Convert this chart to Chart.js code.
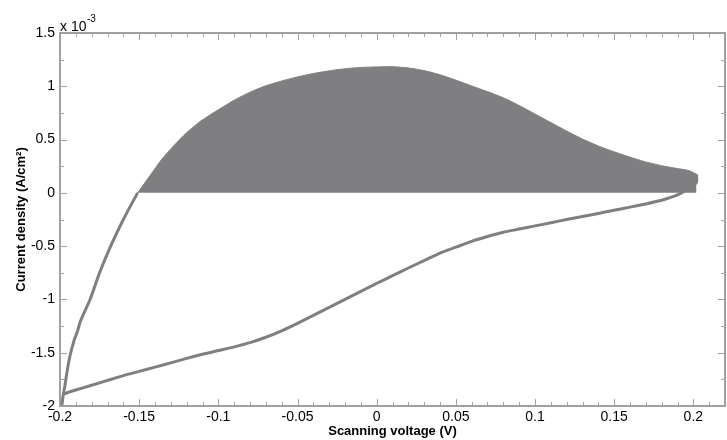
<!DOCTYPE html>
<html>
<head>
<meta charset="utf-8">
<script src="https://cdn.jsdelivr.net/npm/chart.js@4/dist/chart.umd.min.js"></script>
<style>
  body { margin: 0; background: #fff; }
</style>
</head>
<body>
<canvas id="cv" width="727" height="440"></canvas>
<script>
// current density in units of 1e-3 A/cm2
const ida_baja_x = [-0.199, -0.198, -0.197, -0.196, -0.194, -0.191, -0.189, -0.187, -0.181, -0.175, -0.168, -0.160, -0.151];
const ida_baja_y = [-2.02, -1.9, -1.82, -1.72, -1.55, -1.38, -1.30, -1.20, -1.00, -0.75, -0.50, -0.25, 0];

const ida_alta_x = [-0.151, -0.143, -0.136, -0.128, -0.12, -0.111, -0.1, -0.09, -0.08, -0.07, -0.06, -0.05, -0.04, -0.03, -0.02, -0.01, 0, 0.01, 0.02, 0.03, 0.04, 0.05, 0.06, 0.07, 0.08, 0.09, 0.1, 0.11, 0.12, 0.13, 0.14, 0.15, 0.16, 0.17, 0.18, 0.19, 0.197, 0.202];
const ida_alta_y = [0, 0.165, 0.31, 0.445, 0.565, 0.675, 0.78, 0.87, 0.945, 1.005, 1.05, 1.088, 1.12, 1.145, 1.165, 1.177, 1.182, 1.184, 1.172, 1.147, 1.108, 1.058, 1.003, 0.95, 0.892, 0.82, 0.74, 0.66, 0.58, 0.505, 0.44, 0.385, 0.335, 0.29, 0.255, 0.228, 0.21, 0.175];

const vuelta_x = [0.202, 0.202, 0.197, 0.19, 0.18, 0.17, 0.16, 0.15, 0.14, 0.13, 0.12, 0.11, 0.1, 0.09, 0.08, 0.07, 0.06, 0.05, 0.04, 0.03, 0.02, 0.01, 0, -0.01, -0.02, -0.03, -0.04, -0.05, -0.06, -0.07, -0.08, -0.09, -0.1, -0.11, -0.12, -0.13, -0.14, -0.15, -0.16, -0.17, -0.18, -0.19, -0.195, -0.198];
const vuelta_y = [0.175, 0.1, 0.04, -0.02, -0.07, -0.104, -0.134, -0.163, -0.193, -0.222, -0.25, -0.281, -0.31, -0.34, -0.37, -0.41, -0.455, -0.51, -0.565, -0.635, -0.705, -0.777, -0.85, -0.925, -1.0, -1.075, -1.15, -1.225, -1.295, -1.355, -1.405, -1.445, -1.48, -1.515, -1.553, -1.595, -1.635, -1.675, -1.715, -1.76, -1.805, -1.85, -1.873, -1.89];

const ticks_x = [-0.2, -0.15, -0.1, -0.05, 0, 0.05, 0.1, 0.15, 0.2];
const ticks_y = [-2, -1.5, -1, -0.5, 0, 0.5, 1, 1.5];

const puntos = (xs, ys) => xs.map((x, i) => ({ x: x, y: ys[i] }));
const gris = '#7f7f81';
const ejeColor = '#a0a0a0';
const fuente = '"Liberation Sans", Arial, sans-serif';
const fmt = v => String(Number(Number(v).toFixed(2)));

// ticks hacia adentro en los cuatro lados, como en MATLAB
const marcoPlugin = {
  id: 'marco',
  afterDraw(chart) {
    const ctx = chart.ctx;
    const a = chart.chartArea;
    const sx = chart.scales.x, sy = chart.scales.y;
    ctx.save();
    ctx.strokeStyle = ejeColor;
    ctx.lineWidth = 1;
    ctx.beginPath();
    for (let i = -20; i <= 22; i++) {
      const px = Math.round(sx.getPixelForValue(i / 100)) + 0.5;
      const largo = (i % 5 === 0) ? 7 : 4;
      ctx.moveTo(px, a.bottom); ctx.lineTo(px, a.bottom - largo);
      ctx.moveTo(px, a.top); ctx.lineTo(px, a.top + largo);
    }
    for (let i = -8; i <= 6; i++) {
      const py = Math.round(sy.getPixelForValue(i / 4)) + 0.5;
      const largo = (i % 2 === 0) ? 7 : 4;
      ctx.moveTo(a.left, py); ctx.lineTo(a.left + largo, py);
      ctx.moveTo(a.right, py); ctx.lineTo(a.right - largo, py);
    }
    ctx.stroke();
    ctx.lineWidth = 2;
    ctx.strokeRect(a.left, a.top, a.right - a.left, a.bottom - a.top);
    ctx.fillStyle = '#000';
    ctx.textBaseline = 'alphabetic';
    ctx.font = '14px ' + fuente;
    ctx.fillText('x 10', a.left, a.top - 2);
    ctx.font = '10px ' + fuente;
    ctx.fillText('-3', a.left + 27, a.top - 11);
    ctx.restore();
  }
};

new Chart(document.getElementById('cv').getContext('2d'), {
  type: 'scatter',
  data: {
    datasets: [
      {
        data: puntos(ida_alta_x, ida_alta_y),
        showLine: true,
        fill: 'origin',
        backgroundColor: gris,
        borderColor: gris,
        borderWidth: 1,
        pointRadius: 0,
        tension: 0.2
      },
      {
        data: puntos(ida_baja_x, ida_baja_y),
        showLine: true,
        borderColor: gris,
        borderWidth: 3,
        pointRadius: 0,
        tension: 0.2
      },
      {
        data: puntos(vuelta_x, vuelta_y),
        showLine: true,
        borderColor: gris,
        borderWidth: 3,
        pointRadius: 0,
        tension: 0.2
      }
    ]
  },
  options: {
    responsive: false,
    animation: false,
    layout: { padding: { top: 33, right: 2, left: 0, bottom: 0 } },
    plugins: {
      legend: { display: false },
      tooltip: { enabled: false }
    },
    scales: {
      x: {
        type: 'linear',
        min: -0.2,
        max: 0.22,
        grid: { display: false, drawTicks: false },
        border: { display: false },
        afterBuildTicks: s => { s.ticks = ticks_x.map(v => ({ value: v })); },
        afterFit: s => { s.height = 34; },
        ticks: {
          color: '#000',
          padding: 3,
          maxRotation: 0,
          autoSkip: false,
          font: { family: fuente, size: 14 },
          callback: v => fmt(v)
        },
        title: {
          display: true,
          text: 'Scanning voltage (V)',
          color: '#000',
          padding: { top: 0, bottom: 1 },
          font: { family: fuente, size: 13, weight: 'bold' }
        }
      },
      y: {
        type: 'linear',
        min: -2,
        max: 1.5,
        grid: { display: false, drawTicks: false },
        border: { display: false },
        afterBuildTicks: s => { s.ticks = ticks_y.map(v => ({ value: v })); },
        afterFit: s => { s.width = 60; },
        ticks: {
          color: '#000',
          padding: 5,
          autoSkip: false,
          font: { family: fuente, size: 14 },
          callback: v => fmt(v)
        },
        title: {
          display: true,
          text: 'Current density (A/cm²)',
          color: '#000',
          padding: { top: 14, bottom: 0 },
          font: { family: fuente, size: 13, weight: 'bold' }
        }
      }
    }
  },
  plugins: [marcoPlugin]
});
</script>
</body>
</html>
